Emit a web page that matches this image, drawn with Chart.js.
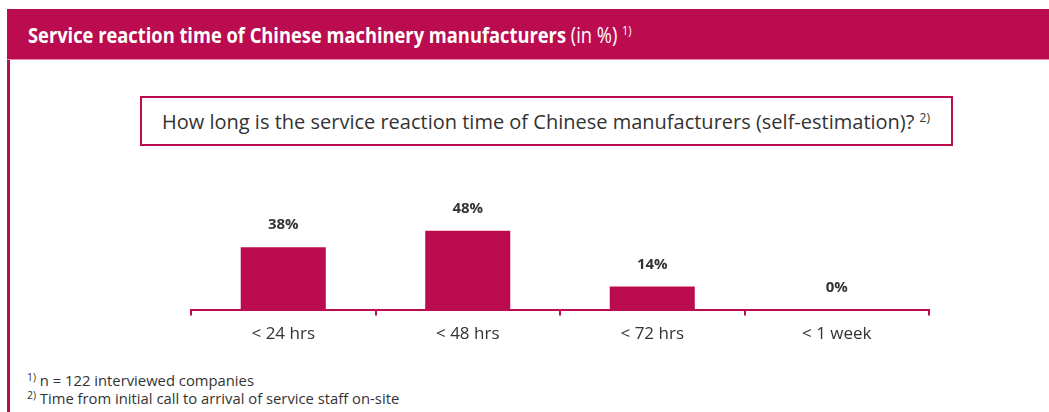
<!DOCTYPE html>
<html>
<head>
<meta charset="utf-8">
<script src="https://cdn.jsdelivr.net/npm/chart.js@4"></script>
<style>
  html, body { margin: 0; padding: 0; background: #fff; }
  body { width: 1049px; height: 412px; position: relative; overflow: hidden; font-family: "Open Sans", sans-serif; color: #333; }
  #header { position: absolute; left: 7px; top: 9px; width: 1042px; height: 51px; background: #BA0C4F; border-bottom: 1px solid #E58AAE; box-sizing: border-box; }
  #header .t { position: absolute; left: 21px; top: 12px; color: #fff; font-family: "Open Sans", sans-serif; font-size: 21px; white-space: nowrap; transform-origin: 0 50%; }
  #header .t b { font-weight: bold; }
  #header .t sup, #qbox sup { font-size: 0.6em; vertical-align: 0.6em; line-height: 0; }
  .fn sup { font-size: 0.7em; vertical-align: 0.5em; line-height: 0; }
  #rule { position: absolute; left: 7px; top: 60px; width: 3px; height: 352px; background: #BA0C4F; }
  #qbox { position: absolute; left: 140px; top: 96px; width: 813px; height: 50px; border: 2px solid #BA0C4F; box-sizing: border-box; }
  #qbox .q { position: absolute; left: 20px; top: 10px; font-size: 20px; color: #333; white-space: nowrap; }
  #chartWrap { position: absolute; left: 0; top: 150px; width: 1049px; height: 210px; }
  .fn { position: absolute; left: 27px; font-size: 14.8px; color: #333; white-space: nowrap; }
</style>
</head>
<body>
<div id="header"><div class="t" id="title"><b id="titleMain">Service reaction time of Chinese machinery manufacturers</b> (in %) <sup>1)</sup></div></div>
<div id="rule"></div>
<div id="qbox"><div class="q">How long is the service reaction time of Chinese manufacturers (self-estimation)? <sup>2)</sup></div></div>
<div id="chartWrap"><canvas id="c" width="1049" height="210"></canvas></div>
<div class="fn" style="top:370px"><sup>1)</sup> n = 122 interviewed companies</div>
<div class="fn" style="top:388px"><sup>2)</sup> Time from initial call to arrival of service staff on-site</div>
<script>
const categories = ["< 24 hrs", "< 48 hrs", "< 72 hrs", "< 1 week"];
const shares = [38, 48, 14, 0];
const valueLabels = ["38%", "48%", "14%", "0%"];

const crimson = "#BA0C4F";

// Narrow the header title so its bold part spans 538px
(function fitTitle() {
  const main = document.getElementById("titleMain");
  const w = main.getBoundingClientRect().width;
  if (w > 0) document.getElementById("title").style.transform = "scaleX(" + (538 / w) + ")";
})();

// Prints each bar's share above it
const valueLabelPlugin = {
  id: "valueLabels",
  afterDatasetsDraw(chart) {
    const ctx = chart.ctx;
    const meta = chart.getDatasetMeta(0);
    ctx.save();
    ctx.font = "bold 15px 'Open Sans', sans-serif";
    ctx.fillStyle = "#333";
    ctx.textAlign = "center";
    ctx.textBaseline = "middle";
    meta.data.forEach((bar, i) => {
      ctx.fillText(valueLabels[i], bar.x, bar.y - 22);
    });
    ctx.restore();
  }
};

new Chart(document.getElementById("c"), {
  type: "bar",
  data: {
    labels: categories,
    datasets: [{
      data: shares,
      backgroundColor: crimson,
      borderWidth: 0,
      categoryPercentage: 1,
      barPercentage: 0.461
    }]
  },
  options: {
    responsive: false,
    animation: false,
    events: [],
    layout: { padding: { left: 191, right: 120, top: 61, bottom: 8 } },
    plugins: { legend: { display: false }, tooltip: { enabled: false } },
    scales: {
      y: { display: false, min: 0, max: 60 },
      x: {
        border: { display: true, color: crimson, width: 2 },
        grid: { display: true, drawOnChartArea: false, drawTicks: true, tickLength: 6, color: crimson, lineWidth: 2 },
        ticks: { color: "#333", font: { family: "'Open Sans', sans-serif", size: 17 }, padding: 8 }
      }
    }
  },
  plugins: [valueLabelPlugin]
});
</script>
</body>
</html>
